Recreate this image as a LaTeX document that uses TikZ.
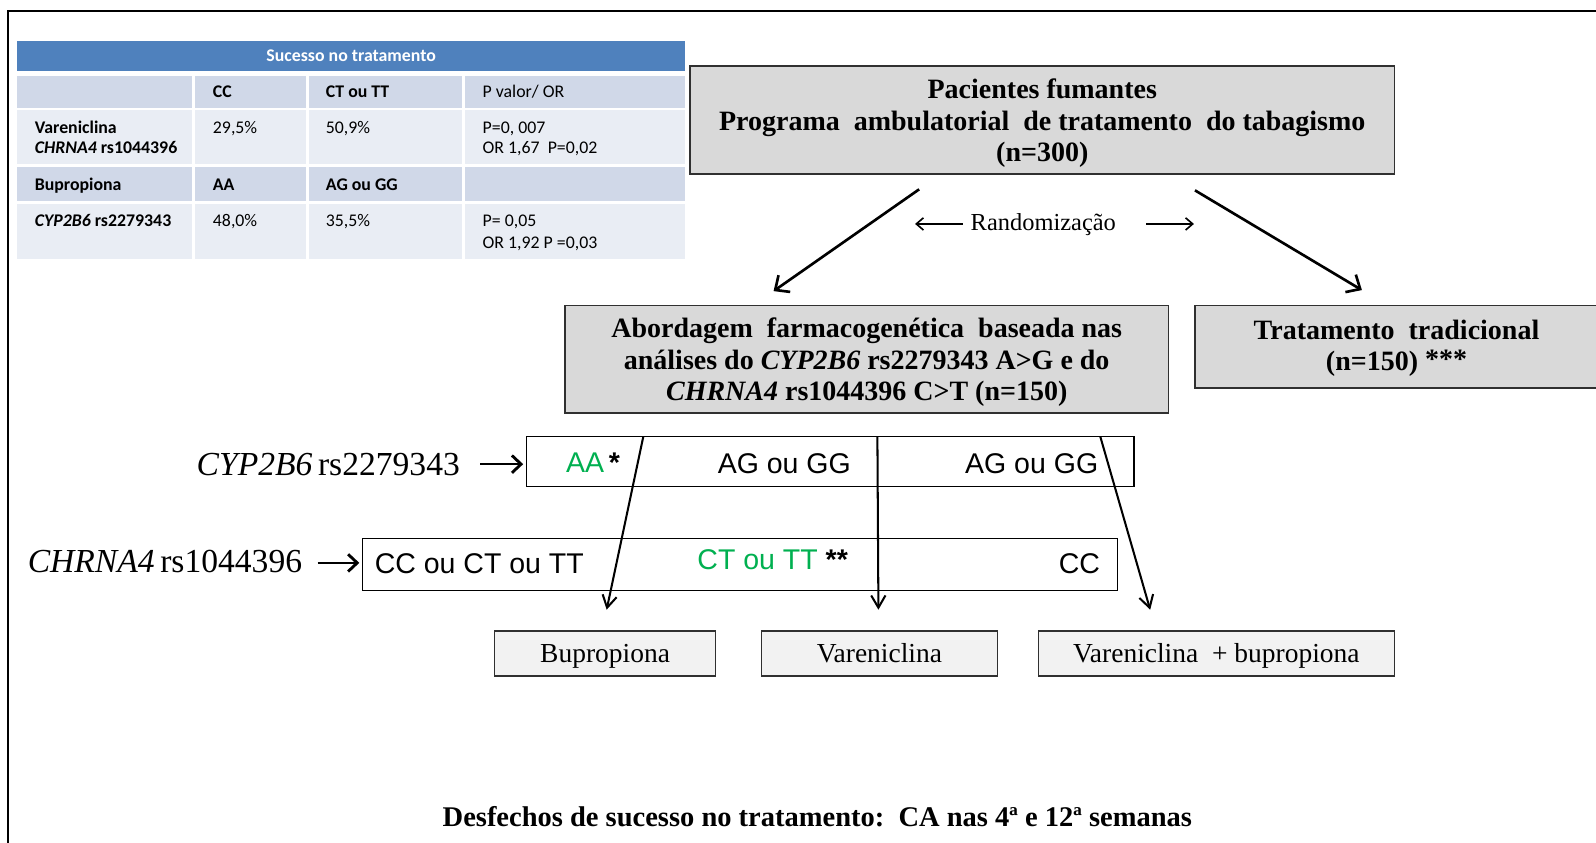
\documentclass[tikz,border=0pt]{standalone}
\usepackage{fontspec}
\setmainfont{Liberation Serif}
\newfontfamily\calib{Carlito}
\newfontfamily\arialf{Liberation Sans}
\usetikzlibrary{arrows.meta}
\definecolor{hdrblue}{HTML}{4F81BD}
\definecolor{rowdark}{HTML}{D0D8E8}
\definecolor{rowlight}{HTML}{E9EDF4}
\definecolor{boxgray}{HTML}{D9D9D9}
\definecolor{druggray}{HTML}{F2F2F2}
\definecolor{gengreen}{HTML}{00B050}
\definecolor{edgegray}{HTML}{303030}
\begin{document}
\begin{tikzpicture}[x=1pt,y=-1pt,
  tb/.style={font=\calib\fontsize{17.5}{20}\selectfont, anchor=base west, inner sep=0pt},
  tbb/.style={tb, font=\calib\bfseries\fontsize{17.5}{20}\selectfont},
  graybox/.style={draw=edgegray, line width=1.6pt, fill=boxgray, inner sep=0pt, align=center,
     font=\bfseries\fontsize{27.5}{31}\selectfont},
  drugbox/.style={draw=edgegray, line width=1.4pt, fill=druggray, inner sep=0pt,
     font=\fontsize{27}{30}\selectfont, text height=21pt, text depth=3pt},
  genebox/.style={draw=black, line width=1.3pt, fill=white, inner sep=0pt},
  genelab/.style={font=\fontsize{33}{36}\selectfont, anchor=east, inner sep=0pt},
  genetxt/.style={font=\arialf\fontsize{28}{32}\selectfont, inner sep=0pt, anchor=west},
  bigarrow/.style={line width=2.6pt, -{Straight Barb[length=11pt,width=20pt,line width=2.6pt]}},
  midarrow/.style={line width=2.6pt, -{Straight Barb[length=9pt,width=17pt,line width=2.8pt]}},
  thinarrow/.style={line width=1.6pt, -{Straight Barb[length=7pt,width=12pt,line width=1.6pt]}},
  throwarrow/.style={line width=2pt, -{Straight Barb[length=12pt,width=14pt,line width=2pt]}}
]
\useasboundingbox (0,0) rectangle (1568,828);
\fill[white] (0,0) rectangle (1568,828);
% outer frame
\draw[line width=2.2pt, black] (8,830) -- (8,11) -- (1570,11);

% ---------------- table ----------------
\fill[hdrblue] (17,40) rectangle (673,70);
\fill[rowdark] (17,75) rectangle (189,106);
\fill[rowdark] (192,75) rectangle (301,106);
\fill[rowdark] (304,75) rectangle (454,106);
\fill[rowdark] (457,75) rectangle (673,106);
\fill[rowlight] (17,108) rectangle (189,161);
\fill[rowlight] (192,108) rectangle (301,161);
\fill[rowlight] (304,108) rectangle (454,161);
\fill[rowlight] (457,108) rectangle (673,161);
\fill[rowdark] (17,164) rectangle (189,197);
\fill[rowdark] (192,164) rectangle (301,197);
\fill[rowdark] (304,164) rectangle (454,197);
\fill[rowdark] (457,164) rectangle (673,197);
\fill[rowlight] (17,200) rectangle (189,254);
\fill[rowlight] (192,200) rectangle (301,254);
\fill[rowlight] (304,200) rectangle (454,254);
\fill[rowlight] (457,200) rectangle (673,254);

\node[font=\calib\bfseries\fontsize{17.5}{20}\selectfont, text=white, inner sep=0pt] (hdr) at (345,55) {Sucesso no tratamento};
\node[tbb] (h1) at (209,96) {CC};
\node[tbb] (h2) at (320,96) {CT ou TT};
\node[tb] (h3) at (474,96) {P valor/ OR};
\node[tbb] (v1) at (34,131) {Vareniclina};
\node[tbb] (v2) at (34,151) {\itshape CHRNA4\upshape\ rs1044396};
\node[tb] (v3) at (209,131) {29,5\%};
\node[tb] (v4) at (320,131) {50,9\%};
\node[tb] (v5) at (474,131) {P=0, 007};
\node[tb] (v6) at (474,151) {OR 1,67\ \ P=0,02};
\node[tbb] (b1) at (34,187) {Bupropiona};
\node[tbb] (b2) at (209,187) {AA};
\node[tbb] (b3) at (320,187) {AG ou GG};
\node[tbb] (c1) at (34,223) {\itshape CYP2B6\upshape\ rs2279343};
\node[tb] (c2) at (209,223) {48,0\%};
\node[tb] (c3) at (320,223) {35,5\%};
\node[tb] (c4) at (474,223) {P= 0,05};
\node[tb] (c5) at (474,244) {OR 1,92 P =0,03};

% ---------------- flow ----------------
\node[graybox, minimum width=692pt, minimum height=106pt] (top) at (1024,118) {};
\node[align=center, inner sep=0pt, font=\bfseries\fontsize{27.5}{31}\selectfont] (toptxt) at (1024,121)
  {Pacientes fumantes\\Programa\ \ ambulatorial\ \ de tratamento\ \ do tabagismo\\(n=300)};

\coordinate (tl0) at (903,186);
\coordinate (tl1) at (760,286);
\coordinate (tr0) at (1174,187);
\coordinate (tr1) at (1338,285);
\draw[bigarrow] (tl0) -- (tl1);
\draw[bigarrow] (tr0) -- (tr1);

\node[font=\fontsize{24}{28}\selectfont, inner sep=0pt] (rand) at (1025,221) {Randomização};
\coordinate (rl0) at (946,220);
\coordinate (rl1) at (899,220);
\coordinate (rr0) at (1126,220);
\coordinate (rr1) at (1173,220);
\draw[thinarrow] (rl0) -- (rl1);
\draw[thinarrow] (rr0) -- (rr1);

\node[graybox, minimum width=593pt, minimum height=106pt] (farm) at (851.5,353) {};
\node[align=center, inner sep=0pt, font=\bfseries\fontsize{27.5}{31}\selectfont] (farmtxt) at (851.5,356)
  {Abordagem\ \ farmacogenética\ \ baseada nas\\análises do \textit{CYP2B6} rs2279343 A>G e do\\\textit{CHRNA4} rs1044396 C>T (n=150)};
\node[graybox, minimum width=400pt, minimum height=81pt] (trad) at (1374,340.5) {};
\node[align=center, inner sep=0pt, font=\bfseries\fontsize{27.5}{31}\selectfont] (tradtxt) at (1372,342)
  {Tratamento\ \ tradicional\\(n=150)\ \raisebox{2pt}{***}};

% CYP row
\node[genelab] (cyplab) at (452,456) {\textit{CYP2B6}\,rs2279343};
\node[genebox, minimum width=597pt, minimum height=49pt] (cypbox) at (815.5,453.5) {};
\coordinate (ca0) at (472,456);
\coordinate (ca1) at (514,456);
\draw[midarrow] (ca0) -- (ca1);
\node[genetxt] (aa) at (556,455) {\textcolor{gengreen}{AA}\,\textbf{*}};
\node[genetxt] (ag1) at (705,456) {AG ou GG};
\node[genetxt] (ag2) at (948,456) {AG ou GG};

% CHRNA row
\node[genelab] (chlab) at (297,552) {\textit{CHRNA4}\,rs1044396};
\node[genebox, minimum width=742pt, minimum height=51pt] (chbox) at (727,554.5) {};
\coordinate (ha0) at (312,553);
\coordinate (ha1) at (353,553);
\draw[midarrow] (ha0) -- (ha1);
\node[genetxt] (cc1) at (368,554) {CC ou CT ou TT};
\node[genetxt] (ct) at (685,550) {\textcolor{gengreen}{CT ou TT}\ \textbf{**}};
\node[genetxt] (cc2) at (1040,554) {CC};

% through arrows
\coordinate (p1) at (632,429);
\coordinate (q1) at (596,599);
\coordinate (p2) at (862,429);
\coordinate (q2) at (863,599);
\coordinate (p3) at (1081,429);
\coordinate (q3) at (1130,599);
\draw[throwarrow] (p1) -- (q1);
\draw[throwarrow] (p2) -- (q2);
\draw[throwarrow] (p3) -- (q3);

% drug boxes
\node[drugbox, minimum width=217pt, minimum height=44pt] (bup) at (594.5,642) {Bupropiona};
\node[drugbox, minimum width=232pt, minimum height=44pt] (var) at (864,642) {Vareniclina};
\node[drugbox, minimum width=350pt, minimum height=44pt] (vb) at (1195,642) {Vareniclina\ \ + bupropiona};

% outcome
\node[font=\bfseries\fontsize{28}{32}\selectfont, inner sep=0pt] (outc) at (803,802)
  {Desfechos de sucesso no tratamento:\ \ CA nas 4ª e 12ª semanas};
\end{tikzpicture}
\end{document}
